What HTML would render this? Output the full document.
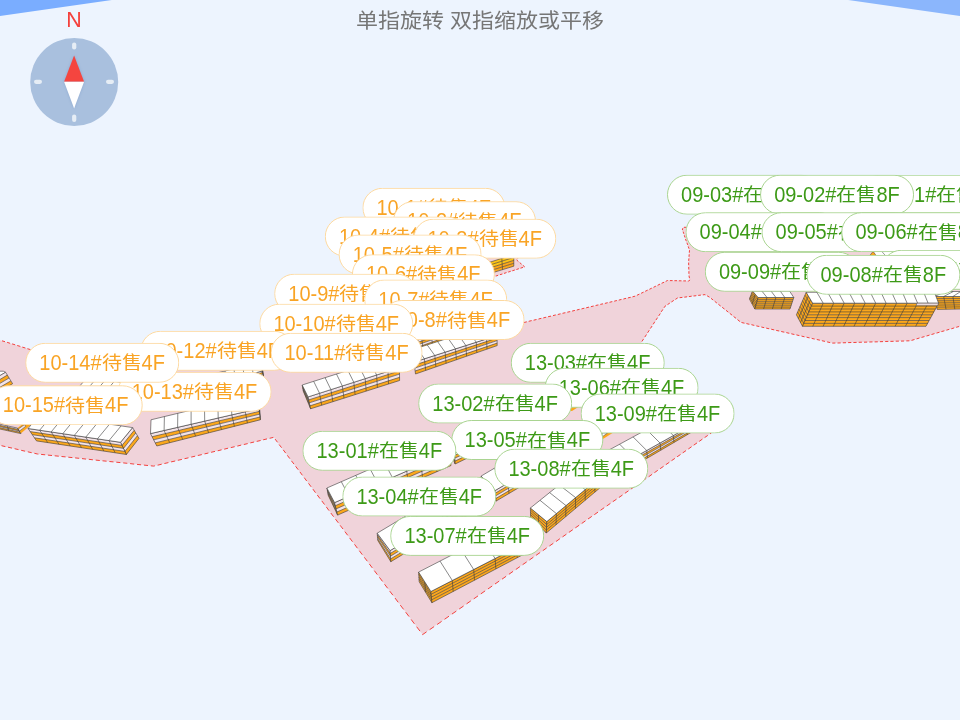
<!DOCTYPE html>
<html lang="zh-CN">
<head>
<meta charset="utf-8">
<title>map</title>
<style>
html,body{margin:0;padding:0;overflow:hidden;}
body{width:960px;height:720px;overflow:hidden;background:#edf4fe;position:relative;font-family:"Liberation Sans",sans-serif;}
#scene{position:absolute;left:0;top:0;width:960px;height:720px;display:block;}
#tip{position:absolute;left:0;top:8px;width:960px;text-align:center;font-size:22px;line-height:26px;color:#767676;letter-spacing:0px;white-space:pre;transform:scale(1,0.935);transform-origin:50% 22.9px;}
#north{position:absolute;left:54px;top:8px;width:40px;text-align:center;font-size:21.4px;line-height:24px;color:#f4403c;will-change:transform;}
.p{position:absolute;left:0;top:0;box-sizing:border-box;height:40px;line-height:38px;border-radius:20px;background:#fff;border:1px solid;text-align:center;font-size:20px;white-space:nowrap;overflow:hidden;will-change:transform;}
.p .t{display:inline-block;transform:scale(1,1.07);transform-origin:50% 25.9px;}
.p .c{display:inline-block;transform:scale(1,0.832);transform-origin:50% 23.64px;font-weight:300;}
.p.o{color:#f9a425;border-color:#fdd9a0;}
.p.g{color:#3d9a17;border-color:#a9d491;}
</style>
</head>
<body>
<svg id="scene" width="960" height="720" viewBox="0 0 960 720">
<defs>
<filter id="nb" x="-50%" y="-50%" width="200%" height="200%"><feGaussianBlur stdDeviation="1.6"/></filter>
<linearGradient id="sky" x1="0" y1="0" x2="1" y2="0"><stop offset="0" stop-color="#79acff"/><stop offset="1" stop-color="#8cb8fd"/></linearGradient>
</defs>
<polygon points="0,0 111.8,0 0,15.9" fill="#7aadff"/>
<polygon points="848.2,0 960,0 960,15.9" fill="#8bb6fc"/>
<polygon points="-3.0,339.2 30.8,349.7 60.0,359.0 160.0,352.0 275.0,347.0 285.0,322.0 296.0,296.0 372.0,292.0 371.0,263.0 360.0,248.0 350.0,233.0 385.0,221.0 400.0,202.0 480.0,202.0 500.0,216.0 530.0,235.0 520.0,255.0 516.7,260.0 524.7,266.9 494.0,276.6 488.0,279.0 492.0,300.0 505.0,318.0 516.0,325.0 523.8,322.5 635.0,296.2 667.5,280.5 688.5,281.0 690.0,280.0 689.0,276.0 688.6,262.0 689.5,250.0 685.0,237.5 682.3,229.0 683.5,227.3 700.0,227.3 970.0,227.3 970.0,323.3 960.0,326.2 910.0,340.8 832.5,343.1 741.0,322.4 710.0,297.5 705.0,294.6 677.5,298.0 665.0,306.2 641.2,342.5 711.5,432.8 422.6,634.6 273.8,437.3 153.8,466.1 37.5,454.0 -3.0,444.7" fill="#f0d3da"/>
<path d="M-3.0 339.2 L0.0 340.1 M2.0 340.8 L5.0 341.7 M7.1 342.3 L10.1 343.3 M12.1 343.9 L15.2 344.8 M17.2 345.5 L20.3 346.4 M22.3 347.1 L25.4 348.0 M27.4 348.7 L30.5 349.6 M32.6 350.3 L35.7 351.2 M37.7 351.9 L40.8 352.9 M42.9 353.6 L46.0 354.5 M48.1 355.2 L51.2 356.2 M53.3 356.9 L56.4 357.9 M58.5 358.5 L60.0 359.0 M60.0 359.0 L61.8 358.9 M64.0 358.7 L67.3 358.5 M69.5 358.3 L72.8 358.1 M75.0 358.0 L78.3 357.7 M80.5 357.6 L83.8 357.3 M85.9 357.2 L89.2 357.0 M91.4 356.8 L94.7 356.6 M96.9 356.4 L100.2 356.2 M102.4 356.0 L105.7 355.8 M107.8 355.7 L111.1 355.4 M113.3 355.3 L116.6 355.0 M118.8 354.9 L122.0 354.7 M124.2 354.5 L127.5 354.3 M129.6 354.1 L132.9 353.9 M135.1 353.7 L138.3 353.5 M140.5 353.4 L143.8 353.1 M146.0 353.0 L149.2 352.8 M151.4 352.6 L154.6 352.4 M156.8 352.2 L160.0 352.0 M160.0 352.0 L160.0 352.0 M162.2 351.9 L165.5 351.8 M167.6 351.7 L170.9 351.5 M173.0 351.4 L176.3 351.3 M178.5 351.2 L181.7 351.1 M183.9 351.0 L187.1 350.8 M189.3 350.7 L192.5 350.6 M194.7 350.5 L197.9 350.4 M200.1 350.3 L203.3 350.1 M205.5 350.0 L208.7 349.9 M210.9 349.8 L214.1 349.6 M216.2 349.6 L219.5 349.4 M221.6 349.3 L224.9 349.2 M227.0 349.1 L230.2 348.9 M232.4 348.9 L235.6 348.7 M237.8 348.6 L241.0 348.5 M243.1 348.4 L246.4 348.2 M248.5 348.2 L251.7 348.0 M253.9 347.9 L257.1 347.8 M259.2 347.7 L262.5 347.5 M264.6 347.5 L267.8 347.3 M270.0 347.2 L273.2 347.1 M275.1 346.7 L276.3 343.7 M277.1 341.7 L278.3 338.8 M279.1 336.9 L280.2 333.9 M281.0 332.0 L282.1 329.1 M282.9 327.2 L284.0 324.4 M284.8 322.5 L285.0 322.0 M285.0 322.0 L285.9 319.8 M286.7 317.9 L287.9 315.2 M288.7 313.4 L289.8 310.7 M290.6 308.9 L291.7 306.2 M292.4 304.4 L293.6 301.8 M294.3 300.0 L295.4 297.4 M296.3 296.0 L299.1 295.8 M301.0 295.7 L303.8 295.6 M305.6 295.5 L308.4 295.3 M310.3 295.2 L313.1 295.1 M314.9 295.0 L317.7 294.9 M319.6 294.8 L322.4 294.6 M324.2 294.5 L327.0 294.4 M328.9 294.3 L331.7 294.1 M333.5 294.0 L336.3 293.9 M338.1 293.8 L340.9 293.6 M342.8 293.5 L345.5 293.4 M347.4 293.3 L350.2 293.1 M352.0 293.1 L354.8 292.9 M356.6 292.8 L359.4 292.7 M361.2 292.6 L364.0 292.4 M365.9 292.3 L368.6 292.2 M370.5 292.1 L372.0 292.0 M372.0 292.0 L372.0 290.8 M371.9 288.9 L371.8 286.2 M371.7 284.4 L371.6 281.7 M371.6 279.9 L371.5 277.2 M371.4 275.5 L371.3 272.8 M371.3 271.1 L371.2 268.5 M371.1 266.8 L371.0 264.2 M370.7 262.6 L369.2 260.6 M368.2 259.2 L366.8 257.2 M365.8 255.9 L364.3 253.9 M363.3 252.6 L361.9 250.6 M360.9 249.3 L360.0 248.0 M360.0 248.0 L359.5 247.3 M358.7 246.0 L357.3 244.0 M356.4 242.7 L355.1 240.7 M354.3 239.4 L353.0 237.5 M352.1 236.2 L350.8 234.2 M350.0 233.0 L352.2 232.2 M353.6 231.8 L355.8 231.0 M357.2 230.5 L359.4 229.8 M360.8 229.3 L362.9 228.6 M364.3 228.1 L366.5 227.4 M367.9 226.9 L370.0 226.1 M371.4 225.7 L373.5 224.9 M374.9 224.5 L377.0 223.7 M378.4 223.3 L380.5 222.5 M381.9 222.1 L384.0 221.4 M385.2 220.7 L386.6 219.0 M387.5 217.9 L388.8 216.2 M389.7 215.0 L391.0 213.4 M391.9 212.2 L393.2 210.6 M394.1 209.5 L395.4 207.8 M396.3 206.7 L397.5 205.1 M398.4 204.0 L399.7 202.4 M400.8 202.0 L402.8 202.0 M404.2 202.0 L406.2 202.0 M407.6 202.0 L409.6 202.0 M411.0 202.0 L413.0 202.0 M414.4 202.0 L416.4 202.0 M417.8 202.0 L419.8 202.0 M421.2 202.0 L423.2 202.0 M424.5 202.0 L426.6 202.0 M427.9 202.0 L430.0 202.0 M431.3 202.0 L433.4 202.0 M434.7 202.0 L436.8 202.0 M438.1 202.0 L440.1 202.0 M441.5 202.0 L443.5 202.0 M444.9 202.0 L446.9 202.0 M448.3 202.0 L450.3 202.0 M451.7 202.0 L453.7 202.0 M455.1 202.0 L457.1 202.0 M458.5 202.0 L460.5 202.0 M461.8 202.0 L463.9 202.0 M465.2 202.0 L467.3 202.0 M468.6 202.0 L470.7 202.0 M472.0 202.0 L474.1 202.0 M475.4 202.0 L477.4 202.0 M478.8 202.0 L480.0 202.0 M480.0 202.0 L480.7 202.5 M481.8 203.3 L483.5 204.4 M484.6 205.2 L486.3 206.4 M487.4 207.2 L489.1 208.4 M490.3 209.2 L492.0 210.4 M493.1 211.2 L494.8 212.4 M496.0 213.2 L497.7 214.4 M498.9 215.2 L500.0 216.0 M500.0 216.0 L500.7 216.4 M501.9 217.2 L503.7 218.4 M504.9 219.1 L506.8 220.3 M508.0 221.1 L509.9 222.2 M511.1 223.0 L513.0 224.2 M514.2 225.0 L516.1 226.2 M517.3 227.0 L519.2 228.2 M520.5 229.0 L522.4 230.2 M523.7 231.0 L525.6 232.2 M526.9 233.0 L528.8 234.2 M529.9 235.1 L528.9 237.2 M528.2 238.6 L527.2 240.6 M526.5 242.0 L525.4 244.1 M524.7 245.6 L523.6 247.7 M522.9 249.1 L521.8 251.3 M521.1 252.8 L520.0 254.9 M519.1 256.3 L517.8 258.4 M516.9 259.8 L516.7 260.0 M516.7 260.0 L518.4 261.5 M519.7 262.6 L521.6 264.2 M522.9 265.3 L524.7 266.9 M524.7 266.9 L524.6 266.9 M523.0 267.4 L520.5 268.2 M518.9 268.7 L516.4 269.5 M514.8 270.0 L512.3 270.8 M510.7 271.3 L508.2 272.1 M506.5 272.6 L504.0 273.4 M502.4 274.0 L499.9 274.7 M498.2 275.3 L495.7 276.1 M494.0 276.6 L494.0 276.6 M494.0 276.6 L491.6 277.6 M489.9 278.2 L488.0 279.0 M488.0 279.0 L488.1 279.6 M488.4 281.3 L488.9 283.9 M489.3 285.7 L489.8 288.4 M490.1 290.2 L490.6 292.9 M491.0 294.7 L491.5 297.4 M491.9 299.3 L492.0 300.0 M492.0 300.0 L493.2 301.7 M494.3 303.2 L496.0 305.5 M497.1 307.1 L498.8 309.4 M500.0 311.0 L501.7 313.4 M502.8 315.0 L504.5 317.4 M506.0 318.6 L508.5 320.3 M510.2 321.3 L512.8 322.9 M514.5 324.0 L516.0 325.0 M516.0 325.0 L517.1 324.6 M519.1 324.0 L521.9 323.1 M523.9 322.5 L526.8 321.8 M528.7 321.3 L531.7 320.6 M533.6 320.2 L536.5 319.5 M538.5 319.0 L541.4 318.3 M543.3 317.9 L546.2 317.2 M548.1 316.7 L551.0 316.1 M553.0 315.6 L555.8 314.9 M557.8 314.5 L560.6 313.8 M562.5 313.3 L565.4 312.7 M567.3 312.2 L570.2 311.6 M572.1 311.1 L574.9 310.4 M576.8 310.0 L579.6 309.3 M581.5 308.9 L584.3 308.2 M586.2 307.8 L589.0 307.1 M590.9 306.7 L593.7 306.0 M595.6 305.5 L598.4 304.9 M600.3 304.4 L603.0 303.8 M604.9 303.4 L607.7 302.7 M609.5 302.3 L612.3 301.6 M614.2 301.2 L616.9 300.5 M618.8 300.1 L621.5 299.4 M623.4 299.0 L626.1 298.3 M627.9 297.9 L630.7 297.3 M632.5 296.8 L635.0 296.2 M635.0 296.2 L635.2 296.1 M636.9 295.3 L639.4 294.1 M641.1 293.3 L643.6 292.1 M645.2 291.3 L647.7 290.1 M649.4 289.3 L651.8 288.1 M653.5 287.3 L655.9 286.1 M657.6 285.3 L660.0 284.1 M661.6 283.3 L664.1 282.2 M665.7 281.4 L667.5 280.5 M667.5 280.5 L668.1 280.5 M669.9 280.6 L672.6 280.6 M674.4 280.7 L677.1 280.7 M678.8 280.8 L681.5 280.8 M683.3 280.9 L686.0 280.9 M687.8 281.0 L688.5 281.0 M688.5 281.0 L690.0 280.0 M690.0 280.0 L690.0 279.9 M689.5 278.2 L689.0 276.0 M689.0 276.0 L689.0 275.6 M688.9 273.8 L688.9 271.2 M688.8 269.5 L688.7 266.9 M688.7 265.2 L688.6 262.6 M688.7 260.9 L688.9 258.4 M689.0 256.8 L689.2 254.3 M689.3 252.7 L689.5 250.2 M689.0 248.7 L688.2 246.4 M687.7 244.9 L686.9 242.7 M686.3 241.2 L685.5 239.0 M685.0 237.5 L685.0 237.5 M685.0 237.5 L684.3 235.3 M683.8 233.8 L683.1 231.6 M682.7 230.2 L682.3 229.0 M682.3 229.0 L682.9 228.2 M683.9 227.3 L686.2 227.3 M687.7 227.3 L689.9 227.3 M691.4 227.3 L693.6 227.3 M695.1 227.3 L697.4 227.3 M698.9 227.3 L700.0 227.3 M700.0 227.3 L701.1 227.3 M702.6 227.3 L704.8 227.3 M706.3 227.3 L708.6 227.3 M710.1 227.3 L712.3 227.3 M713.8 227.3 L716.0 227.3 M717.5 227.3 L719.8 227.3 M721.3 227.3 L723.5 227.3 M725.0 227.3 L727.2 227.3 M728.7 227.3 L731.0 227.3 M732.5 227.3 L734.7 227.3 M736.2 227.3 L738.4 227.3 M739.9 227.3 L742.2 227.3 M743.7 227.3 L745.9 227.3 M747.4 227.3 L749.6 227.3 M751.1 227.3 L753.4 227.3 M754.9 227.3 L757.1 227.3 M758.6 227.3 L760.8 227.3 M762.3 227.3 L764.6 227.3 M766.1 227.3 L768.3 227.3 M769.8 227.3 L772.0 227.3 M773.5 227.3 L775.8 227.3 M777.3 227.3 L779.5 227.3 M781.0 227.3 L783.2 227.3 M784.7 227.3 L787.0 227.3 M788.5 227.3 L790.7 227.3 M792.2 227.3 L794.4 227.3 M795.9 227.3 L798.2 227.3 M799.7 227.3 L801.9 227.3 M803.4 227.3 L805.6 227.3 M807.1 227.3 L809.4 227.3 M810.9 227.3 L813.1 227.3 M814.6 227.3 L816.8 227.3 M818.3 227.3 L820.6 227.3 M822.1 227.3 L824.3 227.3 M825.8 227.3 L828.1 227.3 M829.5 227.3 L831.8 227.3 M833.3 227.3 L835.5 227.3 M837.0 227.3 L839.3 227.3 M840.7 227.3 L843.0 227.3 M844.5 227.3 L846.7 227.3 M848.2 227.3 L850.5 227.3 M851.9 227.3 L854.2 227.3 M855.7 227.3 L857.9 227.3 M859.4 227.3 L861.7 227.3 M863.1 227.3 L865.4 227.3 M866.9 227.3 L869.1 227.3 M870.6 227.3 L872.9 227.3 M874.4 227.3 L876.6 227.3 M878.1 227.3 L880.3 227.3 M881.8 227.3 L884.1 227.3 M885.6 227.3 L887.8 227.3 M889.3 227.3 L891.5 227.3 M893.0 227.3 L895.3 227.3 M896.8 227.3 L899.0 227.3 M900.5 227.3 L902.7 227.3 M904.2 227.3 L906.5 227.3 M908.0 227.3 L910.2 227.3 M911.7 227.3 L913.9 227.3 M915.4 227.3 L917.7 227.3 M919.2 227.3 L921.4 227.3 M922.9 227.3 L925.1 227.3 M926.6 227.3 L928.9 227.3 M930.4 227.3 L932.6 227.3 M934.1 227.3 L936.3 227.3 M937.8 227.3 L940.1 227.3 M941.6 227.3 L943.8 227.3 M945.3 227.3 L947.5 227.3 M949.0 227.3 L951.3 227.3 M952.8 227.3 L955.0 227.3 M956.5 227.3 L958.7 227.3 M960.2 227.3 L962.5 227.3 M964.0 227.3 L966.2 227.3 M967.7 227.3 L969.9 227.3 M970.0 228.7 L970.0 231.0 M970.0 232.5 L970.0 234.8 M970.0 236.3 L970.0 238.6 M970.0 240.2 L970.0 242.5 M970.0 244.1 L970.0 246.5 M970.0 248.1 L970.0 250.5 M970.0 252.1 L970.0 254.6 M970.0 256.2 L970.0 258.7 M970.0 260.3 L970.0 262.8 M970.0 264.5 L970.0 267.1 M970.0 268.8 L970.0 271.4 M970.0 273.1 L970.0 275.7 M970.0 277.5 L970.0 280.1 M970.0 281.9 L970.0 284.6 M970.0 286.4 L970.0 289.1 M970.0 290.9 L970.0 293.7 M970.0 295.5 L970.0 298.3 M970.0 300.2 L970.0 303.0 M970.0 305.0 L970.0 307.8 M970.0 309.8 L970.0 312.7 M970.0 314.6 L970.0 317.6 M970.0 319.6 L970.0 322.5 M968.8 323.7 L965.9 324.5 M963.9 325.1 L961.0 325.9 M959.1 326.5 L956.2 327.3 M954.2 327.9 L951.3 328.8 M949.3 329.3 L946.4 330.2 M944.4 330.8 L941.4 331.6 M939.5 332.2 L936.5 333.1 M934.5 333.6 L931.5 334.5 M929.5 335.1 L926.5 336.0 M924.5 336.6 L921.5 337.4 M919.5 338.0 L916.5 338.9 M914.5 339.5 L911.5 340.4 M909.4 340.8 L906.3 340.9 M904.1 341.0 L901.0 341.1 M898.9 341.1 L895.7 341.2 M893.6 341.3 L890.4 341.4 M888.3 341.4 L885.2 341.5 M883.0 341.6 L879.9 341.7 M877.8 341.8 L874.6 341.9 M872.5 341.9 L869.3 342.0 M867.2 342.1 L864.0 342.2 M861.9 342.2 L858.7 342.3 M856.6 342.4 L853.4 342.5 M851.3 342.5 L848.1 342.6 M846.0 342.7 L842.8 342.8 M840.7 342.9 L837.5 343.0 M835.4 343.0 L832.5 343.1 M832.5 343.1 L832.2 343.0 M830.2 342.6 L827.1 341.9 M825.0 341.4 L821.9 340.7 M819.9 340.2 L816.8 339.5 M814.7 339.1 L811.7 338.4 M809.6 337.9 L806.6 337.2 M804.5 336.8 L801.5 336.1 M799.4 335.6 L796.4 334.9 M794.4 334.5 L791.3 333.8 M789.3 333.3 L786.3 332.6 M784.3 332.2 L781.2 331.5 M779.2 331.0 L776.2 330.4 M774.2 329.9 L771.2 329.2 M769.2 328.8 L766.2 328.1 M764.2 327.7 L761.3 327.0 M759.3 326.5 L756.3 325.9 M754.3 325.4 L751.4 324.7 M749.4 324.3 L746.4 323.6 M744.5 323.2 L741.5 322.5 M739.9 321.5 L737.5 319.6 M736.0 318.3 L733.6 316.5 M732.1 315.2 L729.8 313.4 M728.3 312.2 L726.0 310.3 M724.5 309.1 L722.2 307.3 M720.7 306.1 L718.4 304.3 M716.9 303.1 L714.7 301.3 M713.2 300.1 L711.0 298.3 M709.5 297.2 L707.1 295.8 M705.5 294.9 L705.0 294.6 M705.0 294.6 L702.8 294.9 M700.9 295.1 L698.2 295.4 M696.3 295.7 L693.5 296.0 M691.7 296.2 L688.9 296.6 M687.1 296.8 L684.3 297.2 M682.4 297.4 L679.6 297.7 M677.8 298.0 L677.5 298.0 M677.5 298.0 L675.4 299.4 M673.8 300.4 L671.4 302.0 M669.8 303.1 L667.5 304.6 M665.9 305.7 L665.0 306.2 M665.0 306.2 L664.0 307.8 M662.9 309.4 L661.3 311.8 M660.3 313.5 L658.7 315.9 M657.6 317.6 L655.9 320.1 M654.8 321.7 L653.2 324.3 M652.1 326.0 L650.4 328.5 M649.3 330.2 L647.6 332.8 M646.5 334.5 L644.8 337.1 M643.6 338.9 L641.9 341.5 M641.8 343.2 L643.8 345.7 M645.1 347.4 L647.1 350.0 M648.4 351.7 L650.4 354.2 M651.7 355.9 L653.7 358.5 M655.1 360.3 L657.1 362.9 M658.5 364.7 L660.6 367.3 M661.9 369.1 L664.0 371.8 M665.4 373.6 L667.5 376.3 M668.9 378.1 L671.1 380.8 M672.5 382.7 L674.7 385.4 M676.1 387.3 L678.3 390.1 M679.7 392.0 L681.9 394.8 M683.4 396.7 L685.6 399.5 M687.1 401.5 L689.4 404.3 M690.9 406.3 L693.1 409.2 M694.7 411.2 L697.0 414.1 M698.5 416.1 L700.8 419.1 M702.4 421.1 L704.7 424.1 M706.3 426.1 L708.7 429.1 M710.2 431.2 L711.5 432.8 M711.5 432.8 L710.0 433.9 M707.8 435.4 L704.6 437.6 M702.4 439.1 L699.2 441.4 M697.0 442.9 L693.7 445.2 M691.6 446.7 L688.3 449.0 M686.0 450.6 L682.7 452.9 M680.5 454.5 L677.1 456.8 M674.9 458.4 L671.5 460.7 M669.3 462.3 L665.8 464.7 M663.6 466.3 L660.1 468.7 M657.8 470.3 L654.4 472.7 M652.1 474.3 L648.6 476.8 M646.2 478.4 L642.7 480.8 M640.4 482.5 L636.8 484.9 M634.5 486.6 L630.9 489.1 M628.5 490.8 L624.9 493.3 M622.5 495.0 L618.9 497.5 M616.5 499.2 L612.8 501.7 M610.4 503.4 L606.7 506.0 M604.2 507.7 L600.5 510.3 M598.0 512.1 L594.3 514.7 M591.8 516.4 L588.0 519.0 M585.5 520.8 L581.7 523.5 M579.2 525.2 L575.3 527.9 M572.8 529.7 L568.9 532.4 M566.4 534.2 L562.5 536.9 M559.9 538.7 L556.0 541.5 M553.3 543.3 L549.4 546.0 M546.7 547.9 L542.8 550.7 M540.1 552.5 L536.1 555.3 M533.4 557.2 L529.4 560.0 M526.7 561.9 L522.6 564.7 M519.9 566.6 L515.8 569.5 M513.0 571.4 L508.9 574.3 M506.1 576.3 L502.0 579.2 M499.2 581.1 L495.0 584.0 M492.2 586.0 L487.9 589.0 M485.1 590.9 L480.8 593.9 M478.0 595.9 L473.7 598.9 M470.8 600.9 L466.5 603.9 M463.6 606.0 L459.2 609.0 M456.3 611.1 L451.9 614.1 M449.0 616.2 L444.5 619.3 M441.6 621.4 L437.1 624.5 M434.1 626.6 L429.6 629.7 M426.6 631.8 L422.6 634.6 M422.6 634.6 L422.2 634.1 M420.0 631.1 L416.6 626.7 M414.4 623.8 L411.1 619.4 M409.0 616.5 L405.7 612.2 M403.6 609.4 L400.3 605.1 M398.2 602.3 L395.0 598.0 M392.9 595.2 L389.7 591.1 M387.7 588.3 L384.5 584.2 M382.5 581.4 L379.4 577.3 M377.3 574.6 L374.3 570.6 M372.3 567.9 L369.3 563.9 M367.3 561.2 L364.3 557.3 M362.3 554.7 L359.3 550.7 M357.4 548.2 L354.5 544.3 M352.5 541.7 L349.6 537.9 M347.7 535.3 L344.9 531.6 M343.0 529.0 L340.1 525.3 M338.3 522.8 L335.5 519.1 M333.6 516.7 L330.8 513.0 M329.0 510.6 L326.3 506.9 M324.5 504.5 L321.8 500.9 M320.0 498.6 L317.3 495.0 M315.5 492.7 L312.9 489.1 M311.1 486.8 L308.5 483.3 M306.7 481.0 L304.2 477.6 M302.4 475.3 L299.9 471.9 M298.2 469.7 L295.6 466.3 M294.0 464.1 L291.4 460.8 M289.8 458.6 L287.3 455.3 M285.7 453.1 L283.2 449.8 M281.6 447.7 L279.1 444.5 M277.5 442.3 L275.1 439.1 M273.4 437.4 L269.6 438.3 M267.0 438.9 L263.2 439.8 M260.6 440.5 L256.7 441.4 M254.1 442.0 L250.3 442.9 M247.7 443.6 L243.8 444.5 M241.2 445.1 L237.3 446.1 M234.7 446.7 L230.8 447.6 M228.1 448.2 L224.2 449.2 M221.6 449.8 L217.7 450.8 M215.0 451.4 L211.1 452.3 M208.4 453.0 L204.5 453.9 M201.8 454.6 L197.8 455.5 M195.2 456.2 L191.2 457.1 M188.5 457.8 L184.5 458.7 M181.9 459.4 L177.8 460.3 M175.2 461.0 L171.1 461.9 M168.4 462.6 L164.4 463.5 M161.7 464.2 L157.6 465.2 M154.9 465.8 L153.8 466.1 M153.8 466.1 L150.8 465.8 M148.0 465.5 L143.9 465.1 M141.1 464.8 L137.0 464.4 M134.2 464.1 L130.1 463.6 M127.3 463.3 L123.2 462.9 M120.4 462.6 L116.3 462.2 M113.5 461.9 L109.4 461.5 M106.6 461.2 L102.5 460.8 M99.8 460.5 L95.7 460.1 M92.9 459.8 L88.8 459.3 M86.1 459.1 L82.0 458.6 M79.2 458.3 L75.1 457.9 M72.4 457.6 L68.3 457.2 M65.6 456.9 L61.5 456.5 M58.8 456.2 L54.7 455.8 M52.0 455.5 L47.9 455.1 M45.2 454.8 L41.1 454.4 M38.4 454.1 L37.5 454.0 M37.5 454.0 L34.4 453.3 M31.7 452.7 L27.8 451.8 M25.1 451.2 L21.2 450.3 M18.5 449.6 L14.6 448.7 M12.0 448.1 L8.0 447.2 M5.4 446.6 L1.5 445.7 M-1.1 445.1 L-3.0 444.7 M-3.0 444.7 L-3.0 442.6 M-3.0 440.0 L-3.0 436.0 M-3.0 433.4 L-3.0 429.4 M-3.0 426.8 L-3.0 423.0 M-3.0 420.4 L-3.0 416.6 M-3.0 414.1 L-3.0 410.3 M-3.0 407.8 L-3.0 404.1 M-3.0 401.7 L-3.0 398.0 M-3.0 395.6 L-3.0 392.0 M-3.0 389.6 L-3.0 386.0 M-3.0 383.7 L-3.0 380.2 M-3.0 377.9 L-3.0 374.4 M-3.0 372.1 L-3.0 368.7 M-3.0 366.4 L-3.0 363.0 M-3.0 360.8 L-3.0 357.5 M-3.0 355.3 L-3.0 352.0 M-3.0 349.8 L-3.0 346.6 M-3.0 344.5 L-3.0 341.3" stroke="#f4413e" stroke-width="1.0" fill="none"/>
<g stroke-linecap="butt">
<polygon points="-3.0,371.2 3.3,371.2 5.6,372.3 -8.0,380.3" fill="#fff" stroke="#3a3a3a" stroke-width="0.6" stroke-linejoin="round"/>
<polygon points="-8.0,380.3 5.6,372.3 7.3,375.1 -6.2,383.1" fill="#f3e3e8"/>
<polygon points="-6.2,383.1 7.3,375.1 9.1,378.0 -4.5,386.0" fill="#fba71c"/>
<polygon points="-4.5,386.0 9.1,378.0 10.8,380.9 -2.8,388.9" fill="#f3e3e8"/>
<polygon points="-2.8,388.9 10.8,380.9 12.6,383.7 -1.0,391.7" fill="#fba71c"/>
<path d="M-8.0 380.3 L5.6 372.3 M-6.2 383.1 L7.3 375.1 M-4.5 386.0 L9.1 378.0 M-2.8 388.9 L10.8 380.9 M-1.0 391.7 L12.6 383.7 M-8.0 380.3 L-1.0 391.7 M5.6 372.3 L12.6 383.7" stroke="#3a3a3a" stroke-width="0.6" fill="none"/>
<polygon points="-3.0,423.6 17.5,428.1 18.3,429.5 -3.0,424.8" fill="#f3e3e8"/>
<polygon points="-3.0,424.8 18.3,429.5 19.1,430.9 -3.0,426.0" fill="#fba71c"/>
<polygon points="-3.0,426.0 19.1,430.9 20.0,432.2 -3.0,427.2" fill="#f3e3e8"/>
<polygon points="-3.0,427.2 20.0,432.2 20.8,433.6 -3.0,428.4" fill="#fba71c"/>
<path d="M-3.0 423.6 L17.5 428.1 M-3.0 424.8 L18.3 429.5 M-3.0 426.0 L19.1 430.9 M-3.0 427.2 L20.0 432.2 M-3.0 428.4 L20.8 433.6 M-3.0 423.6 L-3.0 428.4 M7.2 425.9 L8.9 431.0 M17.5 428.1 L20.8 433.6" stroke="#3a3a3a" stroke-width="0.6" fill="none"/>
<polygon points="17.5,428.1 29.0,419.0 32.0,424.0 20.8,433.6" fill="#fba71c"/>
<polygon points="18.3,429.0 24.5,424.6 25.6,426.4 19.4,431.2" fill="#f3e3e8" stroke="#3a3a3a" stroke-width="0.5" stroke-linejoin="round"/>
<path d="M17.5 428.1 L20.8 433.6" stroke="#3a3a3a" stroke-width="0.6"/>
<g>
<polygon points="128.0,401.0 141.0,386.0 142.2,388.5 129.2,403.8" fill="#f3e3e8"/>
<polygon points="129.2,403.8 142.2,388.5 143.5,391.0 130.5,406.5" fill="#fba71c"/>
<polygon points="130.5,406.5 143.5,391.0 144.8,393.5 131.8,409.2" fill="#f3e3e8"/>
<polygon points="131.8,409.2 144.8,393.5 146.0,396.0 133.0,412.0" fill="#fba71c"/>
<path d="M128.0 401.0 L141.0 386.0 M129.2 403.8 L142.2 388.5 M130.5 406.5 L143.5 391.0 M131.8 409.2 L144.8 393.5 M133.0 412.0 L146.0 396.0 M128.0 401.0 L133.0 412.0 M141.0 386.0 L146.0 396.0" stroke="#3a3a3a" stroke-width="0.6" fill="none"/>
<polygon points="75.0,391.5 128.0,401.0 129.2,403.8 76.5,394.2" fill="#f3e3e8"/>
<polygon points="76.5,394.2 129.2,403.8 130.5,406.5 78.0,397.0" fill="#fba71c"/>
<polygon points="78.0,397.0 130.5,406.5 131.8,409.2 79.5,399.8" fill="#f3e3e8"/>
<polygon points="79.5,399.8 131.8,409.2 133.0,412.0 81.0,402.5" fill="#fba71c"/>
<path d="M75.0 391.5 L128.0 401.0 M76.5 394.2 L129.2 403.8 M78.0 397.0 L130.5 406.5 M79.5 399.8 L131.8 409.2 M81.0 402.5 L133.0 412.0 M75.0 391.5 L81.0 402.5 M83.8 393.1 L89.7 404.1 M92.7 394.7 L98.3 405.7 M101.5 396.2 L107.0 407.2 M110.3 397.8 L115.7 408.8 M119.2 399.4 L124.3 410.4 M128.0 401.0 L133.0 412.0" stroke="#3a3a3a" stroke-width="0.6" fill="none"/>
<polygon points="88.0,376.5 141.0,386.0 128.0,401.0 75.0,391.5" fill="#ffffff" stroke="#3a3a3a" stroke-width="0.6" stroke-linejoin="round"/>
<path d="M83.8 393.1 L96.8 378.1 M92.7 394.7 L105.7 379.7 M101.5 396.2 L114.5 381.2 M110.3 397.8 L123.3 382.8 M119.2 399.4 L132.2 384.4" stroke="#3a3a3a" stroke-width="0.6" fill="none"/>
</g>
<g>
<polygon points="120.5,442.3 132.6,427.6 134.2,430.3 122.0,445.4" fill="#f3e3e8"/>
<polygon points="122.0,445.4 134.2,430.3 135.8,433.0 123.5,448.4" fill="#fba71c"/>
<polygon points="123.5,448.4 135.8,433.0 137.4,435.7 124.9,451.4" fill="#f3e3e8"/>
<polygon points="124.9,451.4 137.4,435.7 139.0,438.4 126.4,454.5" fill="#fba71c"/>
<path d="M120.5 442.3 L132.6 427.6 M122.0 445.4 L134.2 430.3 M123.5 448.4 L135.8 433.0 M124.9 451.4 L137.4 435.7 M126.4 454.5 L139.0 438.4 M120.5 442.3 L126.4 454.5 M132.6 427.6 L139.0 438.4" stroke="#3a3a3a" stroke-width="0.6" fill="none"/>
<polygon points="28.1,428.5 120.5,442.3 122.0,445.4 30.2,431.6" fill="#f3e3e8"/>
<polygon points="30.2,431.6 122.0,445.4 123.5,448.4 32.3,434.7" fill="#fba71c"/>
<polygon points="32.3,434.7 123.5,448.4 124.9,451.4 34.4,437.8" fill="#f3e3e8"/>
<polygon points="34.4,437.8 124.9,451.4 126.4,454.5 36.5,440.9" fill="#fba71c"/>
<path d="M28.1 428.5 L120.5 442.3 M30.2 431.6 L122.0 445.4 M32.3 434.7 L123.5 448.4 M34.4 437.8 L124.9 451.4 M36.5 440.9 L126.4 454.5 M28.1 428.5 L36.5 440.9 M39.7 430.2 L47.7 442.6 M51.2 431.9 L59.0 444.3 M62.8 433.7 L70.2 446.0 M74.3 435.4 L81.5 447.7 M85.8 437.1 L92.7 449.4 M97.4 438.9 L103.9 451.1 M109.0 440.6 L115.2 452.8 M120.5 442.3 L126.4 454.5" stroke="#3a3a3a" stroke-width="0.6" fill="none"/>
<polygon points="40.2,413.8 132.6,427.6 120.5,442.3 28.1,428.5" fill="#ffffff" stroke="#3a3a3a" stroke-width="0.6" stroke-linejoin="round"/>
<path d="M39.7 430.2 L51.8 415.5 M51.2 431.9 L63.3 417.2 M62.8 433.7 L74.8 419.0 M74.3 435.4 L86.4 420.7 M85.8 437.1 L97.9 422.4 M97.4 438.9 L109.5 424.2 M109.0 440.6 L121.1 425.9" stroke="#3a3a3a" stroke-width="0.6" fill="none"/>
</g>
<g>
<polygon points="262.0,371.0 261.0,362.0 261.4,363.5 262.4,372.5" fill="#f3e3e8"/>
<polygon points="262.4,372.5 261.4,363.5 261.8,365.0 262.8,374.0" fill="#fba71c"/>
<polygon points="262.8,374.0 261.8,365.0 262.1,366.5 263.1,375.5" fill="#f3e3e8"/>
<polygon points="263.1,375.5 262.1,366.5 262.5,368.0 263.5,377.0" fill="#fba71c"/>
<path d="M262.0 371.0 L261.0 362.0 M262.4 372.5 L261.4 363.5 M262.8 374.0 L261.8 365.0 M263.1 375.5 L262.1 366.5 M263.5 377.0 L262.5 368.0 M262.0 371.0 L263.5 377.0 M261.0 362.0 L262.5 368.0" stroke="#3a3a3a" stroke-width="0.6" fill="none"/>
<polygon points="190.0,392.0 262.0,371.0 262.4,372.5 191.2,394.5" fill="#f3e3e8"/>
<polygon points="191.2,394.5 262.4,372.5 262.8,374.0 192.5,397.0" fill="#fba71c"/>
<polygon points="192.5,397.0 262.8,374.0 263.1,375.5 193.8,399.5" fill="#f3e3e8"/>
<polygon points="193.8,399.5 263.1,375.5 263.5,377.0 195.0,402.0" fill="#fba71c"/>
<path d="M190.0 392.0 L262.0 371.0 M191.2 394.5 L262.4 372.5 M192.5 397.0 L262.8 374.0 M193.8 399.5 L263.1 375.5 M195.0 402.0 L263.5 377.0 M190.0 392.0 L195.0 402.0 M199.0 389.4 L203.6 398.9 M208.0 386.8 L212.1 395.8 M217.0 384.1 L220.7 392.6 M226.0 381.5 L229.2 389.5 M235.0 378.9 L237.8 386.4 M244.0 376.2 L246.4 383.2 M253.0 373.6 L254.9 380.1 M262.0 371.0 L263.5 377.0" stroke="#3a3a3a" stroke-width="0.6" fill="none"/>
<polygon points="189.0,380.0 261.0,362.0 262.0,371.0 190.0,392.0" fill="#ffffff" stroke="#3a3a3a" stroke-width="0.6" stroke-linejoin="round"/>
<path d="M199.0 389.4 L198.0 377.8 M208.0 386.8 L207.0 375.5 M217.0 384.1 L216.0 373.2 M226.0 381.5 L225.0 371.0 M235.0 378.9 L234.0 368.8 M244.0 376.2 L243.0 366.5 M253.0 373.6 L252.0 364.2" stroke="#3a3a3a" stroke-width="0.6" fill="none"/>
</g>
<g>
<polygon points="258.9,408.6 258.0,394.0 258.4,396.4 259.2,411.4" fill="#f3e3e8"/>
<polygon points="259.2,411.4 258.4,396.4 258.7,398.8 259.6,414.2" fill="#fba71c"/>
<polygon points="259.6,414.2 258.7,398.8 259.0,401.1 259.9,417.0" fill="#f3e3e8"/>
<polygon points="259.9,417.0 259.0,401.1 259.4,403.5 260.3,419.8" fill="#fba71c"/>
<path d="M258.9 408.6 L258.0 394.0 M259.2 411.4 L258.4 396.4 M259.6 414.2 L258.7 398.8 M259.9 417.0 L259.0 401.1 M260.3 419.8 L259.4 403.5 M258.9 408.6 L260.3 419.8 M258.0 394.0 L259.4 403.5" stroke="#3a3a3a" stroke-width="0.6" fill="none"/>
<polygon points="150.5,433.6 258.9,408.6 259.2,411.4 152.1,436.7" fill="#f3e3e8"/>
<polygon points="152.1,436.7 259.2,411.4 259.6,414.2 153.7,439.8" fill="#fba71c"/>
<polygon points="153.7,439.8 259.6,414.2 259.9,417.0 155.2,442.9" fill="#f3e3e8"/>
<polygon points="155.2,442.9 259.9,417.0 260.3,419.8 156.8,446.0" fill="#fba71c"/>
<path d="M150.5 433.6 L258.9 408.6 M152.1 436.7 L259.2 411.4 M153.7 439.8 L259.6 414.2 M155.2 442.9 L259.9 417.0 M156.8 446.0 L260.3 419.8 M150.5 433.6 L156.8 446.0 M164.1 430.5 L169.7 442.7 M177.6 427.4 L182.7 439.4 M191.1 424.2 L195.6 436.2 M204.7 421.1 L208.6 432.9 M218.2 418.0 L221.5 429.6 M231.8 414.9 L234.4 426.4 M245.3 411.7 L247.4 423.1 M258.9 408.6 L260.3 419.8" stroke="#3a3a3a" stroke-width="0.6" fill="none"/>
<polygon points="151.0,419.8 258.0,394.0 258.9,408.6 150.5,433.6" fill="#ffffff" stroke="#3a3a3a" stroke-width="0.6" stroke-linejoin="round"/>
<path d="M164.1 430.5 L164.4 416.6 M177.6 427.4 L177.8 413.4 M191.1 424.2 L191.1 410.1 M204.7 421.1 L204.5 406.9 M218.2 418.0 L217.9 403.7 M231.8 414.9 L231.2 400.4 M245.3 411.7 L244.6 397.2" stroke="#3a3a3a" stroke-width="0.6" fill="none"/>
</g>
<g>
<polygon points="302.2,385.0 308.1,396.9 308.7,399.9 302.5,386.6" fill="#f3e3e8"/>
<polygon points="302.5,386.6 308.7,399.9 309.4,402.8 302.8,388.2" fill="#fba71c"/>
<polygon points="302.8,388.2 309.4,402.8 310.0,405.8 303.1,389.9" fill="#f3e3e8"/>
<polygon points="303.1,389.9 310.0,405.8 310.6,408.8 303.4,391.5" fill="#fba71c"/>
<path d="M302.2 385.0 L308.1 396.9 M302.5 386.6 L308.7 399.9 M302.8 388.2 L309.4 402.8 M303.1 389.9 L310.0 405.8 M303.4 391.5 L310.6 408.8 M302.2 385.0 L303.4 391.5 M308.1 396.9 L310.6 408.8" stroke="#3a3a3a" stroke-width="0.6" fill="none"/>
<polygon points="308.1,396.9 399.4,367.7 399.4,370.9 308.7,399.9" fill="#f3e3e8"/>
<polygon points="308.7,399.9 399.4,370.9 399.5,374.1 309.4,402.8" fill="#fba71c"/>
<polygon points="309.4,402.8 399.5,374.1 399.6,377.3 310.0,405.8" fill="#f3e3e8"/>
<polygon points="310.0,405.8 399.6,377.3 399.6,380.5 310.6,408.8" fill="#fba71c"/>
<path d="M308.1 396.9 L399.4 367.7 M308.7 399.9 L399.4 370.9 M309.4 402.8 L399.5 374.1 M310.0 405.8 L399.6 377.3 M310.6 408.8 L399.6 380.5 M308.1 396.9 L310.6 408.8 M319.5 393.2 L321.7 405.2 M330.9 389.6 L332.9 401.7 M342.3 385.9 L344.0 398.2 M353.8 382.3 L355.1 394.6 M365.2 378.6 L366.2 391.1 M376.6 375.0 L377.4 387.6 M388.0 371.3 L388.5 384.0 M399.4 367.7 L399.6 380.5" stroke="#3a3a3a" stroke-width="0.6" fill="none"/>
<polygon points="302.2,385.0 393.5,355.8 399.4,367.7 308.1,396.9" fill="#ffffff" stroke="#3a3a3a" stroke-width="0.6" stroke-linejoin="round"/>
<path d="M319.5 393.2 L313.7 381.4 M330.9 389.6 L325.1 377.7 M342.3 385.9 L336.5 374.1 M353.8 382.3 L347.9 370.4 M365.2 378.6 L359.3 366.8 M376.6 375.0 L370.7 363.1 M388.0 371.3 L382.1 359.4" stroke="#3a3a3a" stroke-width="0.6" fill="none"/>
</g>
<g>
<polygon points="412.0,342.0 470.0,322.5 470.1,324.5 412.4,344.2" fill="#f3e3e8"/>
<polygon points="412.4,344.2 470.1,324.5 470.2,326.5 412.8,346.5" fill="#fba71c"/>
<polygon points="412.8,346.5 470.2,326.5 470.4,328.5 413.1,348.8" fill="#f3e3e8"/>
<polygon points="413.1,348.8 470.4,328.5 470.5,330.5 413.5,351.0" fill="#fba71c"/>
<path d="M412.0 342.0 L470.0 322.5 M412.4 344.2 L470.1 324.5 M412.8 346.5 L470.2 326.5 M413.1 348.8 L470.4 328.5 M413.5 351.0 L470.5 330.5 M412.0 342.0 L413.5 351.0 M421.7 338.8 L423.0 347.6 M431.3 335.5 L432.5 344.2 M441.0 332.2 L442.0 340.8 M450.7 329.0 L451.5 337.3 M460.3 325.8 L461.0 333.9 M470.0 322.5 L470.5 330.5" stroke="#3a3a3a" stroke-width="0.6" fill="none"/>
<polygon points="406.0,332.5 464.0,313.5 470.0,322.5 412.0,342.0" fill="#ffffff" stroke="#3a3a3a" stroke-width="0.6" stroke-linejoin="round"/>
<path d="M421.7 338.8 L415.7 329.3 M431.3 335.5 L425.3 326.2 M441.0 332.2 L435.0 323.0 M450.7 329.0 L444.7 319.8 M460.3 325.8 L454.3 316.7" stroke="#3a3a3a" stroke-width="0.6" fill="none"/>
</g>
<g>
<polygon points="414.0,362.1 497.0,335.6 497.1,338.1 414.4,365.1" fill="#f3e3e8"/>
<polygon points="414.4,365.1 497.1,338.1 497.1,340.6 414.8,368.1" fill="#fba71c"/>
<polygon points="414.8,368.1 497.1,340.6 497.1,343.1 415.1,371.0" fill="#f3e3e8"/>
<polygon points="415.1,371.0 497.1,343.1 497.2,345.6 415.5,374.0" fill="#fba71c"/>
<path d="M414.0 362.1 L497.0 335.6 M414.4 365.1 L497.1 338.1 M414.8 368.1 L497.1 340.6 M415.1 371.0 L497.1 343.1 M415.5 374.0 L497.2 345.6 M414.0 362.1 L415.5 374.0 M424.4 358.8 L425.7 370.4 M434.8 355.5 L435.9 366.9 M445.1 352.2 L446.1 363.4 M455.5 348.9 L456.4 359.8 M465.9 345.5 L466.6 356.2 M476.2 342.2 L476.8 352.7 M486.6 338.9 L487.0 349.2 M497.0 335.6 L497.2 345.6" stroke="#3a3a3a" stroke-width="0.6" fill="none"/>
<polygon points="406.5,351.5 489.5,325.0 497.0,335.6 414.0,362.1" fill="#ffffff" stroke="#3a3a3a" stroke-width="0.6" stroke-linejoin="round"/>
<path d="M424.4 358.8 L416.9 348.2 M434.8 355.5 L427.2 344.9 M445.1 352.2 L437.6 341.6 M455.5 348.9 L448.0 338.2 M465.9 345.5 L458.4 334.9 M476.2 342.2 L468.8 331.6 M486.6 338.9 L479.1 328.3" stroke="#3a3a3a" stroke-width="0.6" fill="none"/>
</g>
<polygon points="478.0,266.0 513.8,254.5 513.8,257.4 478.5,268.6" fill="#fcc419"/>
<polygon points="478.5,268.6 513.8,257.4 513.8,260.4 479.0,271.3" fill="#fcc419"/>
<polygon points="479.0,271.3 513.8,260.4 513.8,263.3 479.5,274.0" fill="#fba71c"/>
<polygon points="479.5,274.0 513.8,263.3 513.8,266.2 480.0,276.6" fill="#fba71c"/>
<path d="M478.0 266.0 L513.8 254.5 M478.5 268.6 L513.8 257.4 M479.0 271.3 L513.8 260.4 M479.5 274.0 L513.8 263.3 M480.0 276.6 L513.8 266.2 M478.0 266.0 L480.0 276.6 M489.9 262.2 L491.2 273.2 M501.8 258.3 L502.5 269.7 M513.8 254.5 L513.8 266.2" stroke="#3a3a3a" stroke-width="0.6" fill="none"/>
<g>
<polygon points="448.0,444.0 454.4,452.5 454.6,455.4 448.2,445.8" fill="#f3e3e8"/>
<polygon points="448.2,445.8 454.6,455.4 454.8,458.2 448.5,447.5" fill="#fba71c"/>
<polygon points="448.5,447.5 454.8,458.2 455.0,461.1 448.8,449.2" fill="#f3e3e8"/>
<polygon points="448.8,449.2 455.0,461.1 455.2,464.0 449.0,451.0" fill="#fba71c"/>
<path d="M448.0 444.0 L454.4 452.5 M448.2 445.8 L454.6 455.4 M448.5 447.5 L454.8 458.2 M448.8 449.2 L455.0 461.1 M449.0 451.0 L455.2 464.0 M448.0 444.0 L449.0 451.0 M454.4 452.5 L455.2 464.0" stroke="#3a3a3a" stroke-width="0.6" fill="none"/>
<polygon points="454.4,452.5 520.0,423.0 520.1,425.2 454.6,455.4" fill="#f3e3e8"/>
<polygon points="454.6,455.4 520.1,425.2 520.2,427.5 454.8,458.2" fill="#fba71c"/>
<polygon points="454.8,458.2 520.2,427.5 520.4,429.8 455.0,461.1" fill="#f3e3e8"/>
<polygon points="455.0,461.1 520.4,429.8 520.5,432.0 455.2,464.0" fill="#fba71c"/>
<path d="M454.4 452.5 L520.0 423.0 M454.6 455.4 L520.1 425.2 M454.8 458.2 L520.2 427.5 M455.0 461.1 L520.4 429.8 M455.2 464.0 L520.5 432.0 M454.4 452.5 L455.2 464.0 M465.3 447.6 L466.1 458.7 M476.3 442.7 L477.0 453.3 M487.2 437.8 L487.9 448.0 M498.1 432.8 L498.7 442.7 M509.1 427.9 L509.6 437.3 M520.0 423.0 L520.5 432.0" stroke="#3a3a3a" stroke-width="0.6" fill="none"/>
<polygon points="448.0,444.0 514.0,415.0 520.0,423.0 454.4,452.5" fill="#ffffff" stroke="#3a3a3a" stroke-width="0.6" stroke-linejoin="round"/>
<path d="M465.3 447.6 L459.0 439.2 M476.3 442.7 L470.0 434.3 M487.2 437.8 L481.0 429.5 M498.1 432.8 L492.0 424.7 M509.1 427.9 L503.0 419.8" stroke="#3a3a3a" stroke-width="0.6" fill="none"/>
</g>
<polygon points="570.0,407.2 578.0,407.2 572.0,411.0 570.0,411.0" fill="#fba71c"/>
<polygon points="602.0,433.0 612.5,433.0 603.4,438.8 602.0,438.8" fill="#fba71c"/>
<polygon points="602.0,433.0 607.5,433.0 603.0,436.2 602.0,436.2" fill="#fff" stroke="#3a3a3a" stroke-width="0.5" stroke-linejoin="round"/>
<g>
<polygon points="326.9,488.0 334.6,502.6 335.4,505.7 327.2,489.9" fill="#f3e3e8"/>
<polygon points="327.2,489.9 335.4,505.7 336.1,508.9 327.6,491.8" fill="#fba71c"/>
<polygon points="327.6,491.8 336.1,508.9 336.9,512.0 327.9,493.6" fill="#f3e3e8"/>
<polygon points="327.9,493.6 336.9,512.0 337.6,515.1 328.3,495.5" fill="#fba71c"/>
<path d="M326.9 488.0 L334.6 502.6 M327.2 489.9 L335.4 505.7 M327.6 491.8 L336.1 508.9 M327.9 493.6 L336.9 512.0 M328.3 495.5 L337.6 515.1 M326.9 488.0 L328.3 495.5 M334.6 502.6 L337.6 515.1" stroke="#3a3a3a" stroke-width="0.6" fill="none"/>
<polygon points="334.6,502.6 450.0,452.2 450.2,455.5 335.4,505.7" fill="#f3e3e8"/>
<polygon points="335.4,505.7 450.2,455.5 450.5,458.9 336.1,508.9" fill="#fba71c"/>
<polygon points="336.1,508.9 450.5,458.9 450.8,462.2 336.9,512.0" fill="#f3e3e8"/>
<polygon points="336.9,512.0 450.8,462.2 451.0,465.5 337.6,515.1" fill="#fba71c"/>
<path d="M334.6 502.6 L450.0 452.2 M335.4 505.7 L450.2 455.5 M336.1 508.9 L450.5 458.9 M336.9 512.0 L450.8 462.2 M337.6 515.1 L451.0 465.5 M334.6 502.6 L337.6 515.1 M349.0 496.3 L351.8 508.9 M363.5 490.0 L366.0 502.7 M377.9 483.7 L380.1 496.5 M392.3 477.4 L394.3 490.3 M406.7 471.1 L408.5 484.1 M421.1 464.8 L422.6 477.9 M435.6 458.5 L436.8 471.7 M450.0 452.2 L451.0 465.5" stroke="#3a3a3a" stroke-width="0.6" fill="none"/>
<polygon points="326.9,488.0 442.3,437.6 450.0,452.2 334.6,502.6" fill="#ffffff" stroke="#3a3a3a" stroke-width="0.6" stroke-linejoin="round"/>
<path d="M349.0 496.3 L341.3 481.7 M363.5 490.0 L355.8 475.4 M377.9 483.7 L370.2 469.1 M392.3 477.4 L384.6 462.8 M406.7 471.1 L399.0 456.5 M421.1 464.8 L413.4 450.2 M435.6 458.5 L427.9 443.9" stroke="#3a3a3a" stroke-width="0.6" fill="none"/>
</g>
<g>
<polygon points="481.1,476.1 495.0,490.6 495.3,493.2 481.3,478.0" fill="#f3e3e8"/>
<polygon points="481.3,478.0 495.3,493.2 495.6,495.9 481.6,479.8" fill="#fba71c"/>
<polygon points="481.6,479.8 495.6,495.9 495.8,498.5 481.8,481.6" fill="#f3e3e8"/>
<polygon points="481.8,481.6 495.8,498.5 496.1,501.1 482.0,483.5" fill="#fba71c"/>
<path d="M481.1 476.1 L495.0 490.6 M481.3 478.0 L495.3 493.2 M481.6 479.8 L495.6 495.9 M481.8 481.6 L495.8 498.5 M482.0 483.5 L496.1 501.1 M481.1 476.1 L482.0 483.5 M495.0 490.6 L496.1 501.1" stroke="#3a3a3a" stroke-width="0.6" fill="none"/>
<polygon points="495.0,490.6 560.0,452.2 560.1,454.9 495.3,493.2" fill="#f3e3e8"/>
<polygon points="495.3,493.2 560.1,454.9 560.2,457.6 495.6,495.9" fill="#fba71c"/>
<polygon points="495.6,495.9 560.2,457.6 560.4,460.3 495.8,498.5" fill="#f3e3e8"/>
<polygon points="495.8,498.5 560.4,460.3 560.5,463.0 496.1,501.1" fill="#fba71c"/>
<path d="M495.0 490.6 L560.0 452.2 M495.3 493.2 L560.1 454.9 M495.6 495.9 L560.2 457.6 M495.8 498.5 L560.4 460.3 M496.1 501.1 L560.5 463.0 M495.0 490.6 L496.1 501.1 M508.0 482.9 L509.0 493.5 M521.0 475.2 L521.9 485.9 M534.0 467.6 L534.7 478.2 M547.0 459.9 L547.6 470.6 M560.0 452.2 L560.5 463.0" stroke="#3a3a3a" stroke-width="0.6" fill="none"/>
<polygon points="481.1,476.1 546.0,437.7 560.0,452.2 495.0,490.6" fill="#ffffff" stroke="#3a3a3a" stroke-width="0.6" stroke-linejoin="round"/>
<path d="M508.0 482.9 L494.1 468.4 M521.0 475.2 L507.1 460.7 M534.0 467.6 L520.0 453.1 M547.0 459.9 L533.0 445.4" stroke="#3a3a3a" stroke-width="0.6" fill="none"/>
</g>
<g>
<polygon points="620.0,465.4 700.0,420.6 700.1,422.2 620.2,467.4" fill="#f3e3e8"/>
<polygon points="620.2,467.4 700.1,422.2 700.2,423.8 620.5,469.5" fill="#fba71c"/>
<polygon points="620.5,469.5 700.2,423.8 700.4,425.3 620.8,471.6" fill="#f3e3e8"/>
<polygon points="620.8,471.6 700.4,425.3 700.5,426.9 621.0,473.6" fill="#fba71c"/>
<path d="M620.0 465.4 L700.0 420.6 M620.2 467.4 L700.1 422.2 M620.5 469.5 L700.2 423.8 M620.8 471.6 L700.4 425.3 M621.0 473.6 L700.5 426.9 M620.0 465.4 L621.0 473.6 M633.3 457.9 L634.2 465.8 M646.7 450.5 L647.5 458.0 M660.0 443.0 L660.8 450.2 M673.3 435.5 L674.0 442.5 M686.7 428.1 L687.2 434.7 M700.0 420.6 L700.5 426.9" stroke="#3a3a3a" stroke-width="0.6" fill="none"/>
<polygon points="606.1,451.6 687.0,407.6 700.0,420.6 620.0,465.4" fill="#ffffff" stroke="#3a3a3a" stroke-width="0.6" stroke-linejoin="round"/>
<path d="M633.3 457.9 L619.6 444.2 M646.7 450.5 L633.1 436.9 M660.0 443.0 L646.6 429.6 M673.3 435.5 L660.0 422.2 M686.7 428.1 L673.5 414.9" stroke="#3a3a3a" stroke-width="0.6" fill="none"/>
</g>
<g>
<polygon points="377.2,533.2 390.1,550.6 390.3,553.4 377.4,535.0" fill="#f3e3e8"/>
<polygon points="377.4,535.0 390.3,553.4 390.5,556.2 377.5,536.9" fill="#fba71c"/>
<polygon points="377.5,536.9 390.5,556.2 390.6,558.9 377.6,538.7" fill="#f3e3e8"/>
<polygon points="377.6,538.7 390.6,558.9 390.8,561.7 377.8,540.5" fill="#fba71c"/>
<path d="M377.2 533.2 L390.1 550.6 M377.4 535.0 L390.3 553.4 M377.5 536.9 L390.5 556.2 M377.6 538.7 L390.6 558.9 M377.8 540.5 L390.8 561.7 M377.2 533.2 L377.8 540.5 M390.1 550.6 L390.8 561.7" stroke="#3a3a3a" stroke-width="0.6" fill="none"/>
<polygon points="390.1,550.6 480.0,496.7 480.1,499.4 390.3,553.4" fill="#f3e3e8"/>
<polygon points="390.3,553.4 480.1,499.4 480.2,502.1 390.5,556.2" fill="#fba71c"/>
<polygon points="390.5,556.2 480.2,502.1 480.4,504.8 390.6,558.9" fill="#f3e3e8"/>
<polygon points="390.6,558.9 480.4,504.8 480.5,507.5 390.8,561.7" fill="#fba71c"/>
<path d="M390.1 550.6 L480.0 496.7 M390.3 553.4 L480.1 499.4 M390.5 556.2 L480.2 502.1 M390.6 558.9 L480.4 504.8 M390.8 561.7 L480.5 507.5 M390.1 550.6 L390.8 561.7 M408.1 539.8 L408.7 550.9 M426.1 529.0 L426.7 540.0 M444.0 518.3 L444.6 529.2 M462.0 507.5 L462.6 518.3 M480.0 496.7 L480.5 507.5" stroke="#3a3a3a" stroke-width="0.6" fill="none"/>
<polygon points="377.2,533.2 467.0,479.3 480.0,496.7 390.1,550.6" fill="#ffffff" stroke="#3a3a3a" stroke-width="0.6" stroke-linejoin="round"/>
<path d="M408.1 539.8 L395.2 522.4 M426.1 529.0 L413.1 511.6 M444.0 518.3 L431.1 500.9 M462.0 507.5 L449.0 490.1" stroke="#3a3a3a" stroke-width="0.6" fill="none"/>
</g>
<g>
<polygon points="530.4,508.0 546.8,521.6 546.7,524.5 530.5,510.2" fill="#fba71c"/>
<polygon points="530.5,510.2 546.7,524.5 546.5,527.3 530.5,512.4" fill="#fba71c"/>
<polygon points="530.5,512.4 546.5,527.3 546.4,530.1 530.5,514.6" fill="#fba71c"/>
<polygon points="530.5,514.6 546.4,530.1 546.3,533.0 530.6,516.8" fill="#fba71c"/>
<path d="M530.4 508.0 L546.8 521.6 M530.5 510.2 L546.7 524.5 M530.5 512.4 L546.5 527.3 M530.5 514.6 L546.4 530.1 M530.6 516.8 L546.3 533.0 M530.4 508.0 L530.6 516.8 M538.6 514.8 L538.5 524.9 M546.8 521.6 L546.3 533.0" stroke="#3a3a3a" stroke-width="0.6" fill="none"/>
<polygon points="546.8,521.6 614.0,465.6 614.1,468.2 546.7,524.5" fill="#fba71c"/>
<polygon points="546.7,524.5 614.1,468.2 614.1,470.7 546.5,527.3" fill="#fba71c"/>
<polygon points="546.5,527.3 614.1,470.7 614.2,473.2 546.4,530.1" fill="#fba71c"/>
<polygon points="546.4,530.1 614.2,473.2 614.3,475.8 546.3,533.0" fill="#fba71c"/>
<path d="M546.8 521.6 L614.0 465.6 M546.7 524.5 L614.1 468.2 M546.5 527.3 L614.1 470.7 M546.4 530.1 L614.2 473.2 M546.3 533.0 L614.3 475.8 M546.8 521.6 L546.3 533.0 M556.4 513.6 L556.0 524.8 M566.0 505.6 L565.7 516.7 M575.6 497.6 L575.4 508.5 M585.2 489.6 L585.2 500.3 M594.8 481.6 L594.9 492.1 M604.4 473.6 L604.6 484.0 M614.0 465.6 L614.3 475.8" stroke="#3a3a3a" stroke-width="0.6" fill="none"/>
<polygon points="530.4,508.0 597.6,454.1 614.0,465.6 546.8,521.6" fill="#ffffff" stroke="#3a3a3a" stroke-width="0.6" stroke-linejoin="round"/>
<path d="M556.4 513.6 L540.0 500.3 M566.0 505.6 L549.6 492.6 M575.6 497.6 L559.2 484.9 M585.2 489.6 L568.8 477.2 M594.8 481.6 L578.4 469.5 M604.4 473.6 L588.0 461.8" stroke="#3a3a3a" stroke-width="0.6" fill="none"/>
</g>
<g>
<polygon points="418.6,572.1 430.9,591.5 431.1,594.3 418.8,574.5" fill="#fba71c"/>
<polygon points="418.8,574.5 431.1,594.3 431.4,597.1 418.9,577.0" fill="#fba71c"/>
<polygon points="418.9,577.0 431.4,597.1 431.6,599.9 419.1,579.4" fill="#fba71c"/>
<polygon points="419.1,579.4 431.6,599.9 431.9,602.7 419.2,581.8" fill="#fba71c"/>
<path d="M418.6 572.1 L430.9 591.5 M418.8 574.5 L431.1 594.3 M418.9 577.0 L431.4 597.1 M419.1 579.4 L431.6 599.9 M419.2 581.8 L431.9 602.7 M418.6 572.1 L419.2 581.8 M424.8 581.8 L425.5 592.2 M430.9 591.5 L431.9 602.7" stroke="#3a3a3a" stroke-width="0.6" fill="none"/>
<polygon points="430.9,591.5 537.9,536.5 538.0,539.0 431.1,594.3" fill="#fba71c"/>
<polygon points="431.1,594.3 538.0,539.0 538.2,541.5 431.4,597.1" fill="#fba71c"/>
<polygon points="431.4,597.1 538.2,541.5 538.4,544.0 431.6,599.9" fill="#fba71c"/>
<polygon points="431.6,599.9 538.4,544.0 538.5,546.5 431.9,602.7" fill="#fba71c"/>
<path d="M430.9 591.5 L537.9 536.5 M431.1 594.3 L538.0 539.0 M431.4 597.1 L538.2 541.5 M431.6 599.9 L538.4 544.0 M431.9 602.7 L538.5 546.5 M430.9 591.5 L431.9 602.7 M452.3 580.5 L453.2 591.5 M473.7 569.5 L474.5 580.2 M495.1 558.5 L495.9 569.0 M516.5 547.5 L517.2 557.7 M537.9 536.5 L538.5 546.5" stroke="#3a3a3a" stroke-width="0.6" fill="none"/>
<polygon points="418.6,572.1 525.6,517.1 537.9,536.5 430.9,591.5" fill="#ffffff" stroke="#3a3a3a" stroke-width="0.6" stroke-linejoin="round"/>
<path d="M452.3 580.5 L440.0 561.1 M473.7 569.5 L461.4 550.1 M495.1 558.5 L482.8 539.1 M516.5 547.5 L504.2 528.1" stroke="#3a3a3a" stroke-width="0.6" fill="none"/>
</g>
<polygon points="869.0,256.5 873.0,251.5 877.0,256.5" fill="#fba71c" stroke="#3a3a3a" stroke-width="0.5" stroke-linejoin="round"/>
<polygon points="877.0,256.5 874.0,251.0 896.0,251.0 896.0,256.5" fill="#fff"/>
<path d="M881.8 251.5 L885.8 256.0" stroke="#3a3a3a" stroke-width="0.5"/>
<g>
<polygon points="934.4,296.5 990.0,296.5 990.0,298.5 934.9,298.6" fill="#fba71c"/>
<polygon points="934.9,298.6 990.0,298.5 990.0,300.5 935.3,300.8" fill="#fba71c"/>
<polygon points="935.3,300.8 990.0,300.5 990.0,302.5 935.8,302.9" fill="#fba71c"/>
<polygon points="935.8,302.9 990.0,302.5 990.0,304.5 936.3,305.1" fill="#fba71c"/>
<polygon points="936.3,305.1 990.0,304.5 990.0,306.5 936.7,307.2" fill="#fba71c"/>
<polygon points="936.7,307.2 990.0,306.5 990.0,308.5 937.2,309.4" fill="#fba71c"/>
<path d="M934.4 296.5 L990.0 296.5 M934.9 298.6 L990.0 298.5 M935.3 300.8 L990.0 300.5 M935.8 302.9 L990.0 302.5 M936.3 305.1 L990.0 304.5 M936.7 307.2 L990.0 306.5 M937.2 309.4 L990.0 308.5 M934.4 296.5 L937.2 309.4 M943.7 296.5 L946.0 309.2 M952.9 296.5 L954.8 309.1 M962.2 296.5 L963.6 308.9 M971.5 296.5 L972.4 308.8 M980.7 296.5 L981.2 308.6 M990.0 296.5 L990.0 308.5" stroke="#3a3a3a" stroke-width="0.6" fill="none"/>
<polygon points="946.0,291.5 990.0,291.5 990.0,296.5 934.4,296.5" fill="#ffffff" stroke="#3a3a3a" stroke-width="0.6" stroke-linejoin="round"/>
<path d="M943.7 296.5 L953.3 291.5 M952.9 296.5 L960.7 291.5 M962.2 296.5 L968.0 291.5 M971.5 296.5 L975.3 291.5 M980.7 296.5 L982.7 291.5" stroke="#3a3a3a" stroke-width="0.6" fill="none"/>
</g>
<g>
<polygon points="752.5,291.0 758.1,297.5 757.5,299.4 752.0,292.3" fill="#fba71c"/>
<polygon points="752.0,292.3 757.5,299.4 757.0,301.3 751.5,293.7" fill="#fba71c"/>
<polygon points="751.5,293.7 757.0,301.3 756.4,303.2 751.0,295.0" fill="#fba71c"/>
<polygon points="751.0,295.0 756.4,303.2 755.9,305.2 750.4,296.3" fill="#fba71c"/>
<polygon points="750.4,296.3 755.9,305.2 755.3,307.1 749.9,297.7" fill="#fba71c"/>
<polygon points="749.9,297.7 755.3,307.1 754.8,309.0 749.4,299.0" fill="#fba71c"/>
<path d="M752.5 291.0 L758.1 297.5 M752.0 292.3 L757.5 299.4 M751.5 293.7 L757.0 301.3 M751.0 295.0 L756.4 303.2 M750.4 296.3 L755.9 305.2 M749.9 297.7 L755.3 307.1 M749.4 299.0 L754.8 309.0 M752.5 291.0 L749.4 299.0 M755.3 294.2 L752.1 304.0 M758.1 297.5 L754.8 309.0" stroke="#3a3a3a" stroke-width="0.6" fill="none"/>
<polygon points="758.1,297.5 793.8,297.5 793.1,299.4 757.5,299.4" fill="#fba71c"/>
<polygon points="757.5,299.4 793.1,299.4 792.5,301.3 757.0,301.3" fill="#fba71c"/>
<polygon points="757.0,301.3 792.5,301.3 791.9,303.2 756.4,303.2" fill="#fba71c"/>
<polygon points="756.4,303.2 791.9,303.2 791.2,305.2 755.9,305.2" fill="#fba71c"/>
<polygon points="755.9,305.2 791.2,305.2 790.6,307.1 755.3,307.1" fill="#fba71c"/>
<polygon points="755.3,307.1 790.6,307.1 790.0,309.0 754.8,309.0" fill="#fba71c"/>
<path d="M758.1 297.5 L793.8 297.5 M757.5 299.4 L793.1 299.4 M757.0 301.3 L792.5 301.3 M756.4 303.2 L791.9 303.2 M755.9 305.2 L791.2 305.2 M755.3 307.1 L790.6 307.1 M754.8 309.0 L790.0 309.0 M758.1 297.5 L754.8 309.0 M767.0 297.5 L763.6 309.0 M775.9 297.5 L772.4 309.0 M784.8 297.5 L781.2 309.0 M793.8 297.5 L790.0 309.0" stroke="#3a3a3a" stroke-width="0.6" fill="none"/>
<polygon points="752.5,291.0 789.5,291.0 793.8,297.5 758.1,297.5" fill="#ffffff" stroke="#3a3a3a" stroke-width="0.6" stroke-linejoin="round"/>
<path d="M767.0 297.5 L761.8 291.0 M775.9 297.5 L771.0 291.0 M784.8 297.5 L780.2 291.0" stroke="#3a3a3a" stroke-width="0.6" fill="none"/>
</g>
<g>
<polygon points="806.2,292.3 812.7,303.2 811.4,306.1 805.0,295.1" fill="#fba71c"/>
<polygon points="805.0,295.1 811.4,306.1 810.2,309.0 803.8,297.9" fill="#fba71c"/>
<polygon points="803.8,297.9 810.2,309.0 808.9,311.9 802.6,300.7" fill="#fba71c"/>
<polygon points="802.6,300.7 808.9,311.9 807.6,314.8 801.3,303.6" fill="#fba71c"/>
<polygon points="801.3,303.6 807.6,314.8 806.3,317.6 800.1,306.4" fill="#fba71c"/>
<polygon points="800.1,306.4 806.3,317.6 805.0,320.5 798.9,309.2" fill="#fba71c"/>
<polygon points="798.9,309.2 805.0,320.5 803.8,323.4 797.6,312.0" fill="#fba71c"/>
<polygon points="797.6,312.0 803.8,323.4 802.5,326.3 796.4,314.8" fill="#fba71c"/>
<path d="M806.2 292.3 L812.7 303.2 M805.0 295.1 L811.4 306.1 M803.8 297.9 L810.2 309.0 M802.6 300.7 L808.9 311.9 M801.3 303.6 L807.6 314.8 M800.1 306.4 L806.3 317.6 M798.9 309.2 L805.0 320.5 M797.6 312.0 L803.8 323.4 M796.4 314.8 L802.5 326.3 M806.2 292.3 L796.4 314.8 M808.4 295.9 L798.4 318.6 M810.6 299.6 L800.5 322.5 M812.7 303.2 L802.5 326.3" stroke="#3a3a3a" stroke-width="0.6" fill="none"/>
<polygon points="812.7,303.2 938.6,303.2 937.0,306.1 811.4,306.1" fill="#fba71c"/>
<polygon points="811.4,306.1 937.0,306.1 935.5,309.0 810.2,309.0" fill="#fba71c"/>
<polygon points="810.2,309.0 935.5,309.0 933.9,311.9 808.9,311.9" fill="#fba71c"/>
<polygon points="808.9,311.9 933.9,311.9 932.3,314.8 807.6,314.8" fill="#fba71c"/>
<polygon points="807.6,314.8 932.3,314.8 930.7,317.6 806.3,317.6" fill="#fba71c"/>
<polygon points="806.3,317.6 930.7,317.6 929.1,320.5 805.0,320.5" fill="#fba71c"/>
<polygon points="805.0,320.5 929.1,320.5 927.6,323.4 803.8,323.4" fill="#fba71c"/>
<polygon points="803.8,323.4 927.6,323.4 926.0,326.3 802.5,326.3" fill="#fba71c"/>
<path d="M812.7 303.2 L938.6 303.2 M811.4 306.1 L937.0 306.1 M810.2 309.0 L935.5 309.0 M808.9 311.9 L933.9 311.9 M807.6 314.8 L932.3 314.8 M806.3 317.6 L930.7 317.6 M805.0 320.5 L929.1 320.5 M803.8 323.4 L927.6 323.4 M802.5 326.3 L926.0 326.3 M812.7 303.2 L802.5 326.3 M823.2 303.2 L812.8 326.3 M833.7 303.2 L823.1 326.3 M844.2 303.2 L833.4 326.3 M854.7 303.2 L843.7 326.3 M865.2 303.2 L854.0 326.3 M875.7 303.2 L864.2 326.3 M886.1 303.2 L874.5 326.3 M896.6 303.2 L884.8 326.3 M907.1 303.2 L895.1 326.3 M917.6 303.2 L905.4 326.3 M928.1 303.2 L915.7 326.3 M938.6 303.2 L926.0 326.3" stroke="#3a3a3a" stroke-width="0.6" fill="none"/>
<polygon points="806.2,292.3 934.4,292.3 938.6,303.2 812.7,303.2" fill="#ffffff" stroke="#3a3a3a" stroke-width="0.6" stroke-linejoin="round"/>
<path d="M823.2 303.2 L816.9 292.3 M833.7 303.2 L827.6 292.3 M844.2 303.2 L838.3 292.3 M854.7 303.2 L849.0 292.3 M865.2 303.2 L859.6 292.3 M875.7 303.2 L870.3 292.3 M886.1 303.2 L881.0 292.3 M896.6 303.2 L891.7 292.3 M907.1 303.2 L902.4 292.3 M917.6 303.2 L913.0 292.3 M928.1 303.2 L923.7 292.3" stroke="#3a3a3a" stroke-width="0.6" fill="none"/>
</g>
<polygon points="917.0,303.2 938.6,303.2 937.6,305.4 916.0,305.4" fill="#f3e3e8" stroke="#3a3a3a" stroke-width="0.4" stroke-linejoin="round"/>
</g>
<g id="compass">
<circle cx="74.2" cy="82" r="44" fill="#a9c0de"/>
<rect x="72.1" y="42.4" width="4.2" height="7.2" rx="2.1" fill="#e6edf5"/>
<rect x="72.1" y="114.4" width="4.2" height="7.6" rx="2.1" fill="#e6edf5"/>
<rect x="34" y="79.7" width="8" height="4.2" rx="2.1" fill="#e6edf5"/>
<rect x="106" y="79.7" width="8" height="4.2" rx="2.1" fill="#e6edf5"/>
<polygon points="74.1,55.4 84.1,81.8 74.1,108.6 64.1,81.8" fill="#5b7fb5" opacity="0.35" filter="url(#nb)"/>
<polygon points="74.1,55.4 84.1,81.8 64.1,81.8" fill="#f5453f"/>
<polygon points="64.1,81.8 84.1,81.8 74.1,108.6" fill="#ffffff"/>
</g>
</svg>
<div id="north">N</div>
<div id="tip">单指旋转 双指缩放或平移</div>
<div class="p o" style="transform:translate(362.40px,187.80px);width:142.7px;z-index:1"><span class="t">10-1#<span class="c">待售</span>4F</span></div>
<div class="p o" style="transform:translate(393.00px,201.20px);width:142.7px;z-index:2"><span class="t">10-2#<span class="c">待售</span>4F</span></div>
<div class="p o" style="transform:translate(324.80px,216.50px);width:142.7px;z-index:3"><span class="t">10-4#<span class="c">待售</span>4F</span></div>
<div class="p o" style="transform:translate(413.30px,218.70px);width:142.7px;z-index:4"><span class="t">10-3#<span class="c">待售</span>4F</span></div>
<div class="p o" style="transform:translate(338.60px,234.50px);width:142.7px;z-index:5"><span class="t">10-5#<span class="c">待售</span>4F</span></div>
<div class="p o" style="transform:translate(351.90px,254.30px);width:142.7px;z-index:6"><span class="t">10-6#<span class="c">待售</span>4F</span></div>
<div class="p o" style="transform:translate(274.20px,273.70px);width:142.7px;z-index:7"><span class="t">10-9#<span class="c">待售</span>4F</span></div>
<div class="p o" style="transform:translate(364.20px,279.50px);width:142.7px;z-index:8"><span class="t">10-7#<span class="c">待售</span>4F</span></div>
<div class="p o" style="transform:translate(381.60px,300.00px);width:142.7px;z-index:9"><span class="t">10-8#<span class="c">待售</span>4F</span></div>
<div class="p o" style="transform:translate(259.30px,303.70px);width:153.8px;z-index:10"><span class="t">10-10#<span class="c">待售</span>4F</span></div>
<div class="p o" style="transform:translate(140.30px,330.80px);width:153.8px;z-index:11"><span class="t">10-12#<span class="c">待售</span>4F</span></div>
<div class="p o" style="transform:translate(270.60px,332.80px);width:151.9px;z-index:12"><span class="t">10-11#<span class="c">待售</span>4F</span></div>
<div class="p o" style="transform:translate(117.60px,371.80px);width:153.8px;z-index:13"><span class="t">10-13#<span class="c">待售</span>4F</span></div>
<div class="p o" style="transform:translate(25.25px,342.80px);width:153.8px;z-index:14"><span class="t">10-14#<span class="c">待售</span>4F</span></div>
<div class="p o" style="transform:translate(-11.30px,385.30px);width:153.8px;z-index:15"><span class="t">10-15#<span class="c">待售</span>4F</span></div>
<div class="p g" style="transform:translate(510.75px,342.80px);width:153.8px;z-index:20"><span class="t">13-03#<span class="c">在售</span>4F</span></div>
<div class="p g" style="transform:translate(544.60px,367.80px);width:153.8px;z-index:21"><span class="t">13-06#<span class="c">在售</span>4F</span></div>
<div class="p g" style="transform:translate(418.20px,383.50px);width:153.8px;z-index:22"><span class="t">13-02#<span class="c">在售</span>4F</span></div>
<div class="p g" style="transform:translate(580.60px,393.50px);width:153.8px;z-index:23"><span class="t">13-09#<span class="c">在售</span>4F</span></div>
<div class="p g" style="transform:translate(451.30px,420.00px);width:152.2px;z-index:24"><span class="t">13-05#<span class="c">在售</span>4F</span></div>
<div class="p g" style="transform:translate(302.40px,430.80px);width:153.8px;z-index:25"><span class="t">13-01#<span class="c">在售</span>4F</span></div>
<div class="p g" style="transform:translate(494.30px,448.70px);width:153.8px;z-index:26"><span class="t">13-08#<span class="c">在售</span>4F</span></div>
<div class="p g" style="transform:translate(342.30px,476.50px);width:153.8px;z-index:27"><span class="t">13-04#<span class="c">在售</span>4F</span></div>
<div class="p g" style="transform:translate(390.20px,515.90px);width:154.0px;z-index:28"><span class="t">13-07#<span class="c">在售</span>4F</span></div>
<div class="p g" style="transform:translate(860.00px,174.70px);width:153.8px;z-index:30"><span class="t">09-01#<span class="c">在售</span>8F</span></div>
<div class="p g" style="transform:translate(667.00px,174.70px);width:153.8px;z-index:31"><span class="t">09-03#<span class="c">在售</span>8F</span></div>
<div class="p g" style="transform:translate(760.05px,174.70px);width:153.8px;z-index:32"><span class="t">09-02#<span class="c">在售</span>8F</span></div>
<div class="p g" style="transform:translate(685.50px,212.20px);width:153.8px;z-index:33"><span class="t">09-04#<span class="c">在售</span>8F</span></div>
<div class="p g" style="transform:translate(761.50px,212.20px);width:153.8px;z-index:34"><span class="t">09-05#<span class="c">在售</span>8F</span></div>
<div class="p g" style="transform:translate(841.30px,212.20px);width:153.8px;z-index:35"><span class="t">09-06#<span class="c">在售</span>8F</span></div>
<div class="p g" style="transform:translate(881.20px,249.80px);width:153.8px;z-index:36"><span class="t">09-07#<span class="c">在售</span>8F</span></div>
<div class="p g" style="transform:translate(704.80px,251.80px);width:153.8px;z-index:37"><span class="t">09-09#<span class="c">在售</span>8F</span></div>
<div class="p g" style="transform:translate(806.40px,254.80px);width:153.8px;z-index:38"><span class="t">09-08#<span class="c">在售</span>8F</span></div>
</body>
</html>
